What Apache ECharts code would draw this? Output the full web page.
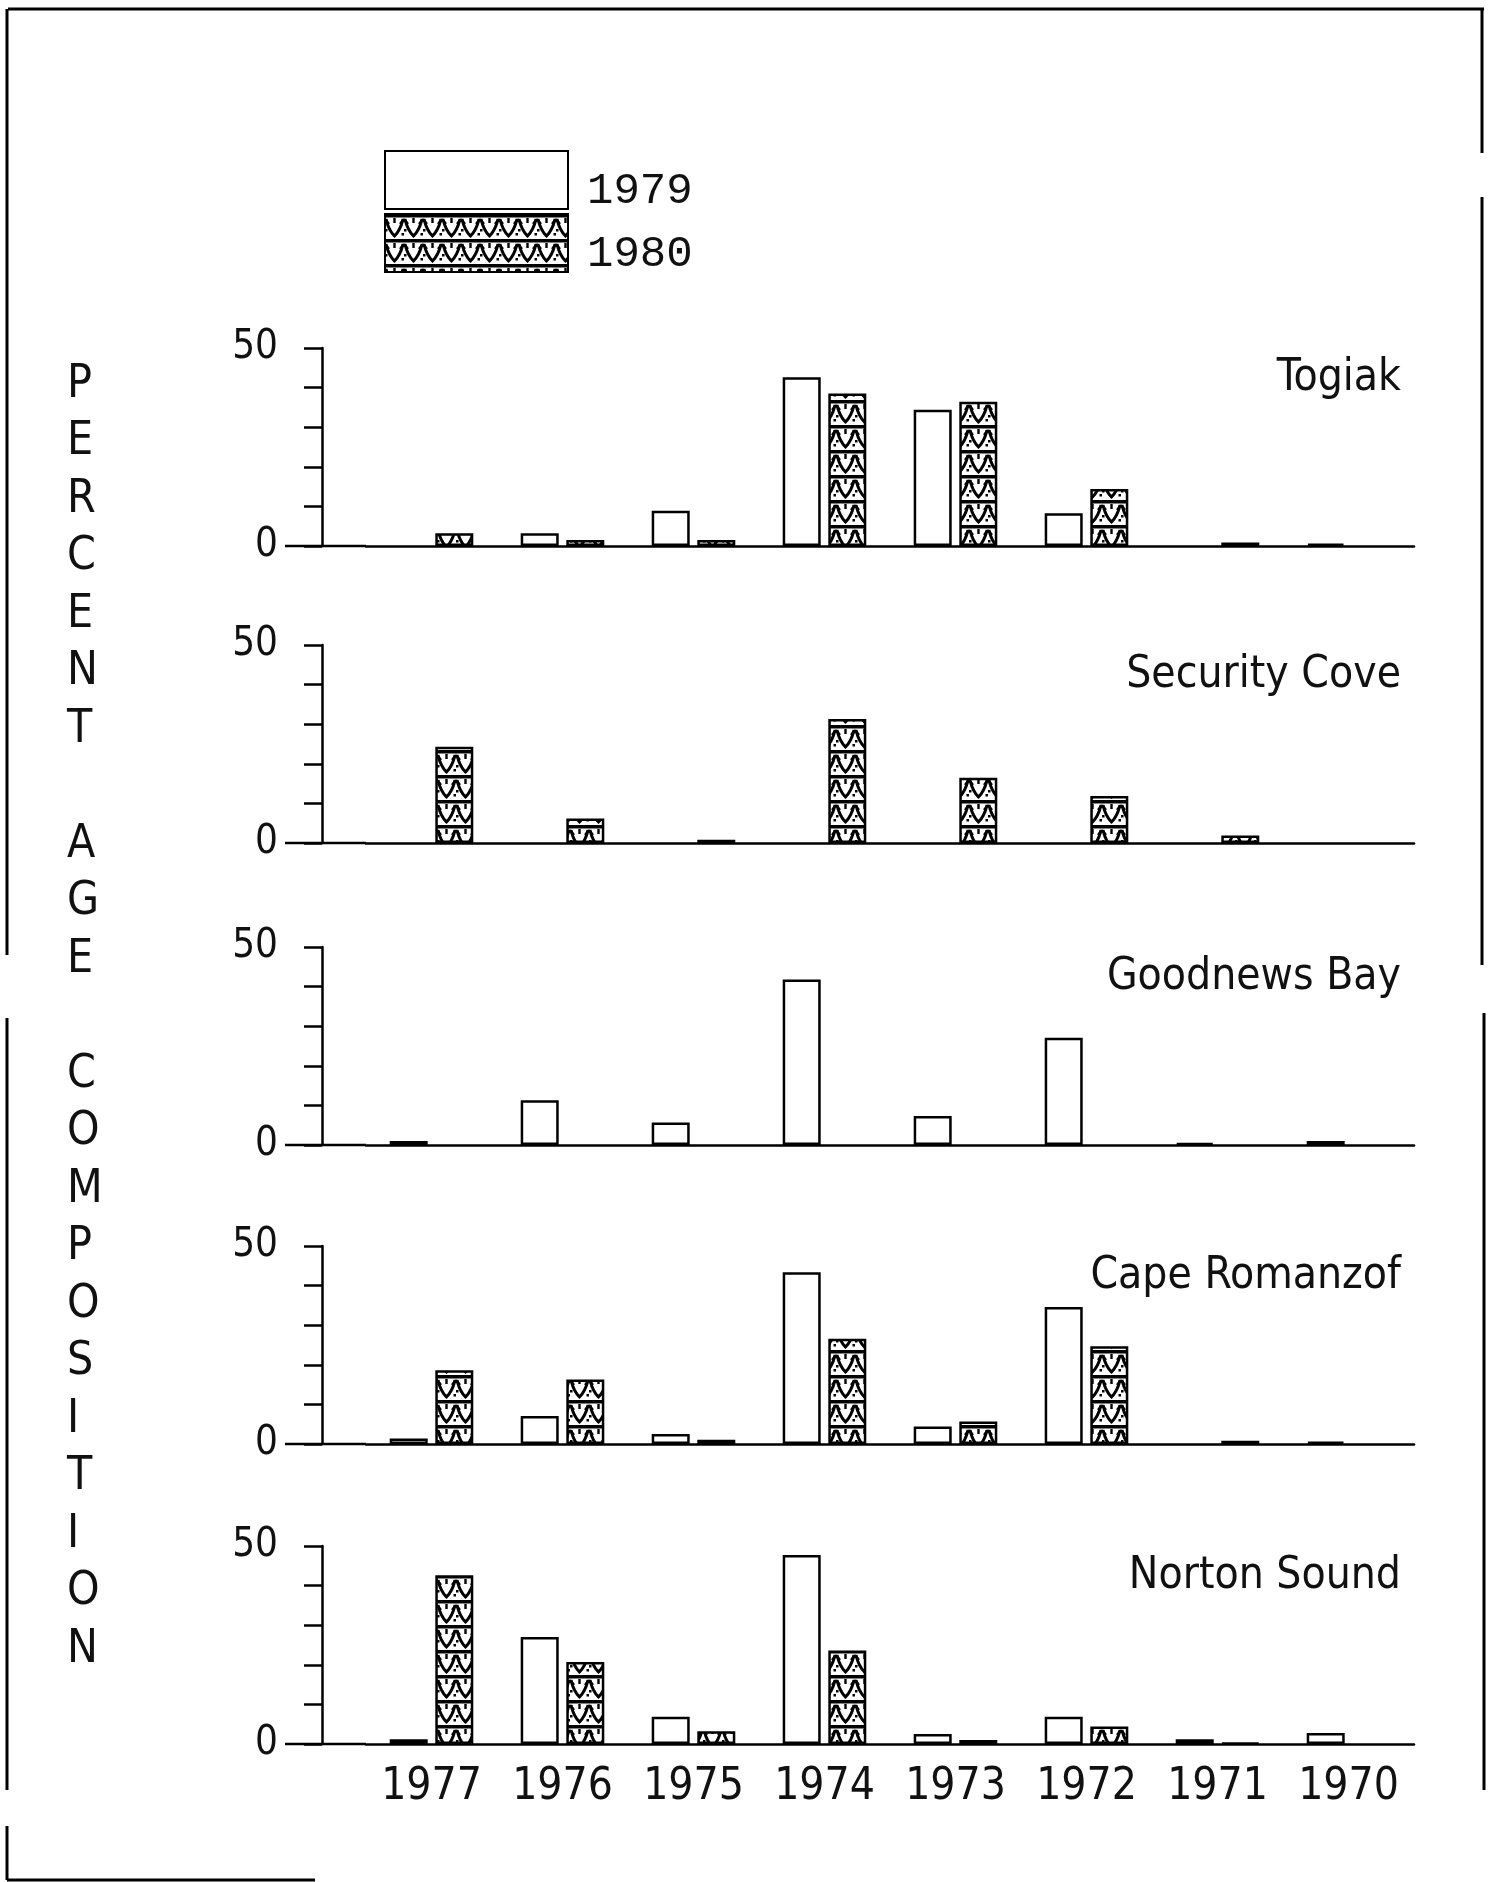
<!DOCTYPE html>
<html>
<head>
<meta charset="utf-8">
<script src="https://cdn.jsdelivr.net/npm/echarts@6/dist/echarts.min.js"></script>
<style>
html,body{margin:0;padding:0;background:#fff;}
#chart{width:1495px;height:1882px;}
</style>
</head>
<body>
<div id="chart"></div>
<script>
// ---------- data ----------
const categories = ['1977','1976','1975','1974','1973','1972','1971','1970'];
const seriesNames = ['1979','1980'];
const panelNames = ['Togiak','Security Cove','Goodnews Bay','Cape Romanzof','Norton Sound'];
const togiak1979   = [null, 3.2, 8.9, 42.6, 34.4, 8.3, null, 0.6];
const togiak1980   = [3.2, 1.5, 1.5, 38.5, 36.4, 14.4, 0.9, null];
const security1979 = [null, null, null, null, null, null, null, null];
const security1980 = [24.3, 6.2, 0.8, 31.3, 16.5, 11.9, 1.9, null];
const goodnews1979 = [1.0, 11.3, 5.7, 41.8, 7.3, 27.1, 0.5, 1.0];
const goodnews1980 = [null, null, null, null, null, null, null, null];
const cape1979     = [1.4, 7.1, 2.5, 43.4, 4.4, 34.6, null, 0.6];
const cape1980     = [18.6, 16.3, 1.1, 26.6, 5.7, 24.7, 0.8, null];
const norton1979   = [1.2, 27.0, 6.9, 47.7, 2.5, 6.9, 1.2, 2.8];
const norton1980   = [42.6, 20.7, 3.2, 23.6, 1.0, 4.4, 0.3, null];
const yTickLabels = [0, 50];
const axisTitle = 'PERCENT AGE COMPOSITION';

const panelData = [
  [togiak1979, togiak1980],
  [security1979, security1980],
  [goodnews1979, goodnews1980],
  [cape1979, cape1980],
  [norton1979, norton1980]
];

// ---------- layout ----------
const gridTops = [348, 645, 947, 1246, 1546];
const gridH = 198;
const gridLeft = 366, gridW = 1048;
const yAxisX = 322;
const FONT = "'DejaVu Sans Condensed','Liberation Sans Narrow','Liberation Sans',sans-serif";

function makePattern(){
  const c = document.createElement('canvas');
  c.width = 19; c.height = 25;
  const g = c.getContext('2d');
  g.fillStyle = '#fff'; g.fillRect(0,0,19,25);
  g.strokeStyle = '#000';
  g.lineWidth = 4;
  g.beginPath(); g.moveTo(0,1.5); g.lineTo(19,1.5); g.stroke();
  g.lineWidth = 3;
  g.beginPath();
  g.moveTo(1,5); g.quadraticCurveTo(3.5,16,9.5,22); g.quadraticCurveTo(15.5,16,18,5);
  g.stroke();
  g.lineWidth = 2.4;
  g.beginPath();
  g.moveTo(0,5); g.lineTo(4,10); g.moveTo(19,5); g.lineTo(15,10);
  g.moveTo(9.5,4); g.lineTo(9.5,9);
  g.stroke();
  g.fillStyle = '#000';
  g.fillRect(0,15,2.5,2.5);
  g.fillRect(16.5,19,2.5,2.5);
  return c;
}
const hatch = {image: makePattern(), repeat: 'repeat'};

const grids = [], xAxes = [], yAxes = [], series = [], titles = [], graphics = [];
panelNames.forEach((name, i) => {
  grids.push({left: gridLeft, width: gridW, top: gridTops[i], height: gridH});
  xAxes.push({
    type: 'category', gridIndex: i, data: categories,
    axisLine: {lineStyle: {color: '#000', width: 2.5}},
    axisTick: {show: false},
    axisLabel: {show: i === panelNames.length - 1, interval: 0, color: '#111', fontFamily: FONT, fontSize: 44, margin: 22}
  });
  yAxes.push({
    type: 'value', gridIndex: i, min: 0, max: 50, interval: 10, offset: gridLeft - yAxisX,
    axisLine: {show: true, lineStyle: {color: '#000', width: 2.5}},
    axisTick: {show: true, length: 18, lineStyle: {color: '#000', width: 2.5}},
    splitLine: {show: false},
    axisLabel: {color: '#111', fontFamily: FONT, fontSize: 40, margin: 44,
      formatter: v => yTickLabels.includes(v) ? String(v) : ''}
  });
  titles.push({
    text: name, right: 89, top: gridTops[i] + 4,
    textStyle: {fontFamily: FONT, fontSize: 44, fontWeight: 'normal', color: '#111'}
  });
  seriesNames.forEach((sn, k) => {
    series.push({
      name: sn, type: 'bar', xAxisIndex: i, yAxisIndex: i,
      data: panelData[i][k], barWidth: 38, barGap: '20%',
      itemStyle: k === 0
        ? {color: '#fff', borderColor: '#000', borderWidth: 2.5}
        : {color: hatch, borderColor: '#000', borderWidth: 2.5}
    });
  });
  // baseline extension left of the y axis
  graphics.push({type: 'line', silent: true,
    shape: {x1: 285, y1: gridTops[i] + gridH, x2: gridLeft, y2: gridTops[i] + gridH},
    style: {stroke: '#000', lineWidth: 2.5}});
});

// vertical stacked axis title
graphics.push({
  type: 'text', left: 67, top: 356,
  style: {
    text: axisTitle.split('').join('\n'),
    font: "46px 'DejaVu Sans Condensed','Liberation Sans Narrow',sans-serif",
    lineHeight: 57.5, fill: '#111', align: 'center'
  }
});
// page frame (scan border)
[[8,9,1484,9],[7,9,7,955],[7,1018,7,1790],[7,1826,7,1880],[7,1880,315,1880],
 [1482,10,1482,153],[1482,197,1482,965],[1484,1013,1484,1790]].forEach(s => {
  graphics.push({type: 'line', silent: true, shape: {x1: s[0], y1: s[1], x2: s[2], y2: s[3]},
    style: {stroke: '#000', lineWidth: 3}});
});

const chart = echarts.init(document.getElementById('chart'), null, {renderer: 'canvas'});
chart.setOption({
  animation: false,
  backgroundColor: '#fff',
  title: titles,
  legend: {
    data: seriesNames, orient: 'vertical', left: 379, top: 145,
    itemWidth: 183, itemHeight: 58, itemGap: 0, icon: 'rect', selectedMode: false,
    formatter: n => '{a|' + n + '}',
    textStyle: {
      fontFamily: "'Liberation Mono','DejaVu Sans Mono',monospace", fontSize: 44, color: '#111',
      rich: {a: {fontFamily: "'Liberation Mono','DejaVu Sans Mono',monospace", fontSize: 44, color: '#111', padding: [22, 0, 0, 14]}}
    }
  },
  grid: grids, xAxis: xAxes, yAxis: yAxes, series: series,
  graphic: graphics
});
</script>
</body>
</html>
